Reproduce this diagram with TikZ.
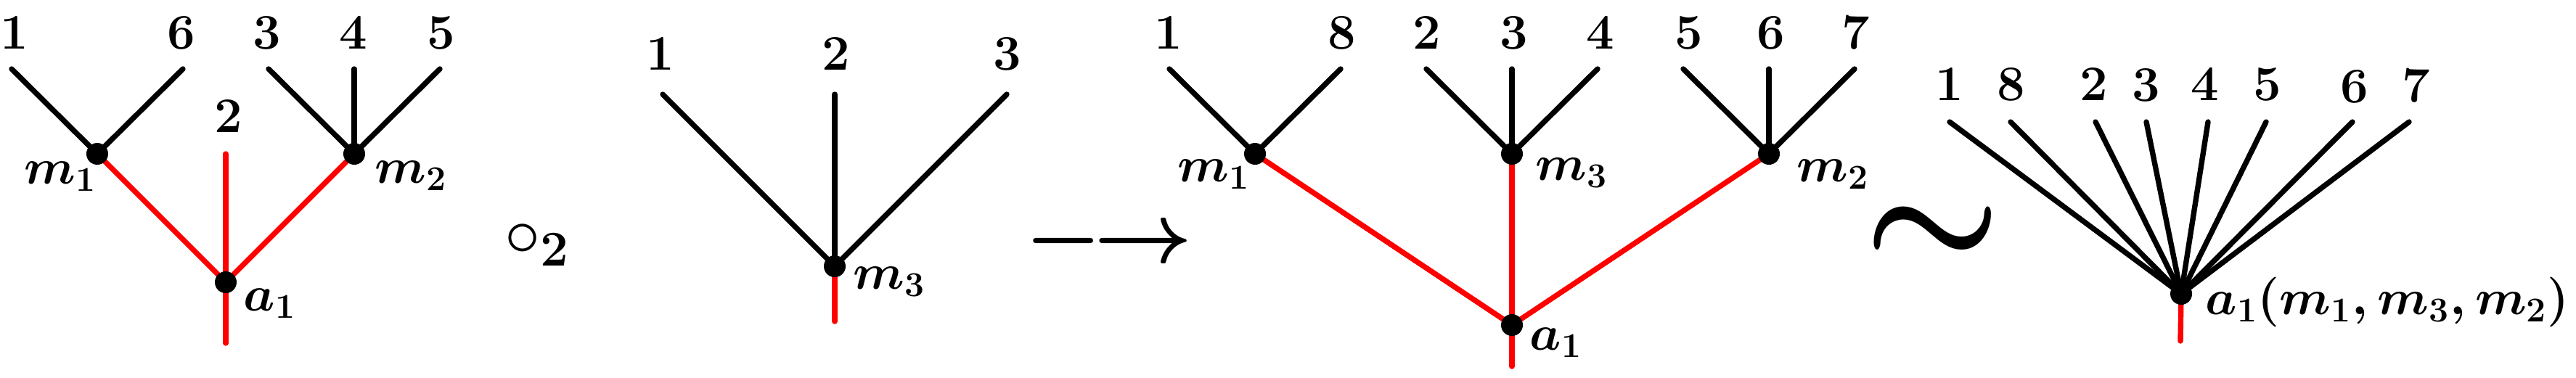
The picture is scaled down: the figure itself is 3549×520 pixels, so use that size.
\documentclass[tikz,border=0pt]{standalone}
\usepackage{fix-cm}
\usepackage{amsmath}
\pgfdeclarelayer{bg}
\pgfsetlayers{bg,main}
\newcommand\labfont{\fontsize{19.5}{23}\selectfont\boldmath}
\tikzset{
  edge/.style={line width=2.1pt, line cap=round, black},
  redge/.style={edge, red},
  vtx/.style={circle, fill=black, inner sep=0pt, minimum size=0.3cm},
  lab/.style={inner sep=0pt, anchor=base, font=\labfont},
  mlab/.style={inner sep=0pt, anchor=base west, font=\labfont},
  oplab/.style={inner sep=0pt, anchor=base west}
}
\begin{document}
\begin{tikzpicture}[x=0.01cm, y=-0.01cm]
\useasboundingbox (0,0) rectangle (3549,520);
% ---------- tree 1 ----------
\node[vtx] (Aa) at (311,389) {};
\node[vtx] (Am1) at (134,212) {};
\node[vtx] (Am2) at (488,212) {};
\coordinate (AL1) at (16,95);
\coordinate (AL6) at (252,95);
\coordinate (AL3) at (370,95);
\coordinate (AL4) at (488,95);
\coordinate (AL5) at (606,95);
\coordinate (AL2) at (311,212);
\coordinate (Ar) at (311,473);
\node[lab] (tA1) at (20,67) {$1$};
\node[lab] (tA6) at (250,67) {$6$};
\node[lab] (tA3) at (368,67) {$3$};
\node[lab] (tA4) at (487,67) {$4$};
\node[lab] (tA5) at (608,67) {$5$};
\node[lab] (tA2) at (315,182) {$2$};
\node[mlab] (nAm1) at (33,253) {$m_1$};
\node[mlab] (nAm2) at (516,252) {$m_2$};
\node[mlab] (nAa) at (335,428) {$a_1$};
% ---------- operator o_2 ----------
\node[oplab, font=\fontsize{28}{32}\selectfont] (op1) at (695,352) {$\circ_{\mathbf{2}}$};
% ---------- tree 2 ----------
\node[vtx] (Bm3) at (1150,367) {};
\coordinate (BL1) at (913,130);
\coordinate (BL2) at (1150,130);
\coordinate (BL3) at (1387,130);
\coordinate (Br) at (1150,443);
\node[lab] (tB1) at (910,96) {$1$};
\node[lab] (tB2) at (1152,96) {$2$};
\node[lab] (tB3) at (1388,96) {$3$};
\node[mlab] (nBm3) at (1175,398) {$m_3$};
% ---------- arrow ----------
\node[oplab, font=\fontsize{33.5}{38}\selectfont\boldmath] (op2) at (1412,361) {$\relbar\mkern-1.4mu\rightarrow$};
% ---------- tree 3 ----------
\node[vtx] (Ca) at (2083,448) {};
\node[vtx] (Cm1) at (1729,212) {};
\node[vtx] (Cm3) at (2083,212) {};
\node[vtx] (Cm2) at (2437,212) {};
\coordinate (CL1) at (1611,95);
\coordinate (CL8) at (1847,95);
\coordinate (CL2) at (1965,95);
\coordinate (CL3) at (2083,95);
\coordinate (CL4) at (2201,95);
\coordinate (CL5) at (2319,95);
\coordinate (CL6) at (2437,95);
\coordinate (CL7) at (2555,95);
\coordinate (Cr) at (2083,505);
\node[lab] (tC1) at (1610,67) {$1$};
\node[lab] (tC8) at (1849,67) {$8$};
\node[lab] (tC2) at (1966,67) {$2$};
\node[lab] (tC3) at (2086,67) {$3$};
\node[lab] (tC4) at (2205,67) {$4$};
\node[lab] (tC5) at (2327,67) {$5$};
\node[lab] (tC6) at (2440,67) {$6$};
\node[lab] (tC7) at (2557,67) {$7$};
\node[mlab] (nCm1) at (1622,250) {$m_1$};
\node[mlab] (nCm3) at (2115,248) {$m_3$};
\node[mlab] (nCm2) at (2475,250) {$m_2$};
\node[mlab] (nCa) at (2107,482) {$a_1$};
% ---------- tilde ----------
\node[oplab, font=\fontsize{60}{66}\selectfont\boldmath] (op3) at (2568,367) {$\sim$};
% ---------- tree 4 ----------
\node[vtx] (Da) at (3005,405) {};
\coordinate (DL1) at (2686,168);
\coordinate (DL8) at (2770,168);
\coordinate (DL2) at (2887,168);
\coordinate (DL3) at (2957,168);
\coordinate (DL4) at (3042,168);
\coordinate (DL5) at (3122,168);
\coordinate (DL6) at (3241,168);
\coordinate (DL7) at (3319,168);
\coordinate (Dr) at (3004,470);
\node[lab] (tD1) at (2686,138) {$1$};
\node[lab] (tD8) at (2771,138) {$8$};
\node[lab] (tD2) at (2885,138) {$2$};
\node[lab] (tD3) at (2957,139) {$3$};
\node[lab] (tD4) at (3038,138) {$4$};
\node[lab] (tD5) at (3124,138) {$5$};
\node[lab] (tD6) at (3244,141) {$6$};
\node[lab] (tD7) at (3329,140) {$7$};
\node[mlab] (nDa) at (3038,433) {$a_1(m_1,m_3,m_2)$};
% ---------- edges ----------
\begin{pgfonlayer}{bg}
  \draw[edge] (Am1.center) -- (AL1);
  \draw[edge] (Am1.center) -- (AL6);
  \draw[edge] (Am2.center) -- (AL3);
  \draw[edge] (Am2.center) -- (AL4);
  \draw[edge] (Am2.center) -- (AL5);
  \draw[redge] (Aa.center) -- (Am1.center);
  \draw[redge] (Aa.center) -- (Am2.center);
  \draw[redge] (Ar) -- (AL2);
  \draw[edge] (Bm3.center) -- (BL1);
  \draw[edge] (Bm3.center) -- (BL2);
  \draw[edge] (Bm3.center) -- (BL3);
  \draw[redge] (Bm3.center) -- (Br);
  \draw[edge] (Cm1.center) -- (CL1);
  \draw[edge] (Cm1.center) -- (CL8);
  \draw[edge] (Cm3.center) -- (CL2);
  \draw[edge] (Cm3.center) -- (CL3);
  \draw[edge] (Cm3.center) -- (CL4);
  \draw[edge] (Cm2.center) -- (CL5);
  \draw[edge] (Cm2.center) -- (CL6);
  \draw[edge] (Cm2.center) -- (CL7);
  \draw[redge] (Ca.center) -- (Cm1.center);
  \draw[redge] (Ca.center) -- (Cm3.center);
  \draw[redge] (Ca.center) -- (Cm2.center);
  \draw[redge] (Ca.center) -- (Cr);
  \foreach \l in {DL1,DL8,DL2,DL3,DL4,DL5,DL6,DL7}
    \draw[edge] (Da.center) -- (\l);
  \draw[redge] (Da.center) -- (Dr);
\end{pgfonlayer}
\end{tikzpicture}
\end{document}
